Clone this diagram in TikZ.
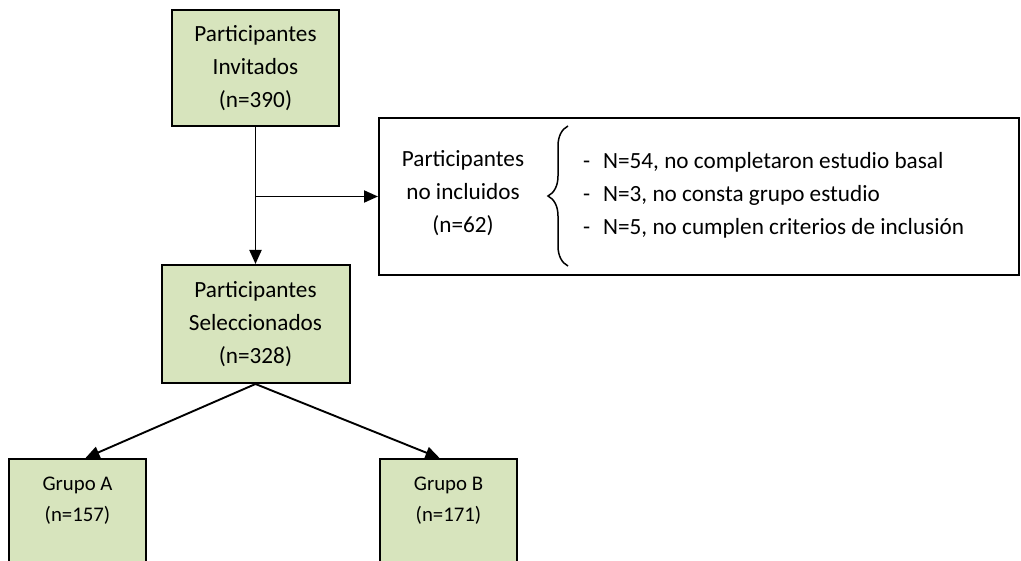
\documentclass[tikz,border=0pt]{standalone}
\usepackage{fontspec}
\setmainfont{Carlito}
\usepackage{tikz}
\usetikzlibrary{arrows.meta,decorations.pathreplacing}
\usepackage{xcolor}
\definecolor{verdeclaro}{HTML}{D7E4BD}

\begin{document}
\begin{tikzpicture}[x=1pt, y=-1pt, line join=miter, >={Triangle[length=14pt,width=12pt]},
 font=\fontsize{23.2}{33}\selectfont,
 caja/.style={draw, line width=2pt, fill=verdeclaro, align=center, inner sep=0pt},
 texto/.style={align=center, inner sep=0pt},
 flecha/.style={->, line width=1.9pt}]
 \useasboundingbox (0,0) rectangle (1021,561);
 \clip (0,0) rectangle (1021,561);
 % Cajas principales
 \node[caja, minimum width=167pt, minimum height=116pt] (inv) at (255.5,68) {Participantes\\Invitados\\(n=390)};
 \node[caja, minimum width=188pt, minimum height=118pt] (sel) at (255.5,324) {Participantes\\Seleccionados\\(n=328)};
 % Grupos
 \node[caja, minimum width=137pt, minimum height=142pt] (grpA) at (77.5,530) {};
 \node[caja, minimum width=137pt, minimum height=142pt] (grpB) at (448.5,530) {};
 \node[texto, font=\fontsize{20.8}{31}\selectfont] (grpAt) at (77.5,500.5) {Grupo A\\(n=157)};
 \node[texto, font=\fontsize{20.8}{31}\selectfont] (grpBt) at (448.5,500.5) {Grupo B\\(n=171)};
 % No incluidos
 \node[draw, line width=2pt, minimum width=640pt, minimum height=157pt, inner sep=0pt] (excl) at (699,196.5) {};
 \node[texto] (exclt) at (463,193) {Participantes\\no incluidos\\(n=62)};
 \node[texto, align=left, anchor=west] (motivos) at (583,195)
 {\makebox[20pt][l]{-}N=54, no completaron estudio basal\\
 \makebox[20pt][l]{-}N=3, no consta grupo estudio\\
 \makebox[20pt][l]{-}N=5, no cumplen criterios de inclusión};
 \draw[decorate, decoration={brace, amplitude=20pt}, line width=1.5pt] (568,266) -- (568,126);
 % Flechas
 \coordinate (split) at (inv.south |- excl.west);
 \draw[flecha] (inv) -- (sel);
 \draw[flecha] (split) -- (excl.west);
 \draw[flecha] (sel.south) -- ([xshift=8pt]grpA.north);
 \draw[flecha] (sel.south) -- ([xshift=-9pt]grpB.north);
\end{tikzpicture}
\end{document}
